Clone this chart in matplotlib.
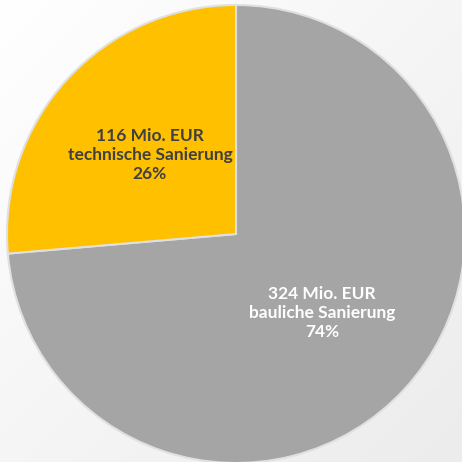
import matplotlib
matplotlib.use("Agg")
import matplotlib.pyplot as plt
import numpy as np

categories = ["bauliche Sanierung", "technische Sanierung"]
amounts = [324, 116]  # Mio. EUR
percents = [74, 26]
colors = ["#a5a5a5", "#ffc000"]
text_colors = ["#ffffff", "#404040"]

fig = plt.figure(figsize=(4.62, 4.62), dpi=100)
ax = fig.add_axes([0, 0, 1, 1])
# subtle background gradient
grad = np.linspace(0, 1, 256)
g = np.add.outer(grad, grad) / 2
ax.imshow(g, extent=[-1.0306, 0.9869, -0.9956, 1.0218],
          cmap=matplotlib.colors.LinearSegmentedColormap.from_list("bg", ["#ffffff", "#ececec"]),
          origin="upper", aspect="auto", zorder=0, vmin=0, vmax=1)

wedges, texts = ax.pie(amounts, colors=colors, startangle=90, counterclock=False,
                       radius=1.0, center=(0, 0),
                       wedgeprops=dict(edgecolor="#e0e0e0", linewidth=1.5))
for w in wedges:
    w.set_zorder(2)

for w, amt, cat, pct, tc in zip(wedges, amounts, categories, percents, text_colors):
    ang = np.deg2rad((w.theta1 + w.theta2) / 2)
    r = 0.51
    ax.text(r * np.cos(ang), r * np.sin(ang), f"{amt} Mio. EUR\n{cat}\n{pct}%",
            ha="center", va="center", color=tc, fontsize=12.5, fontweight="bold",
            family="Lato", linespacing=1.2, zorder=3)

ax.set_xlim(-1.0306, 0.9869)
ax.set_ylim(-0.9956, 1.0218)
ax.set_aspect("auto")
ax.axis("off")
fig.savefig("out.png", dpi=100)
